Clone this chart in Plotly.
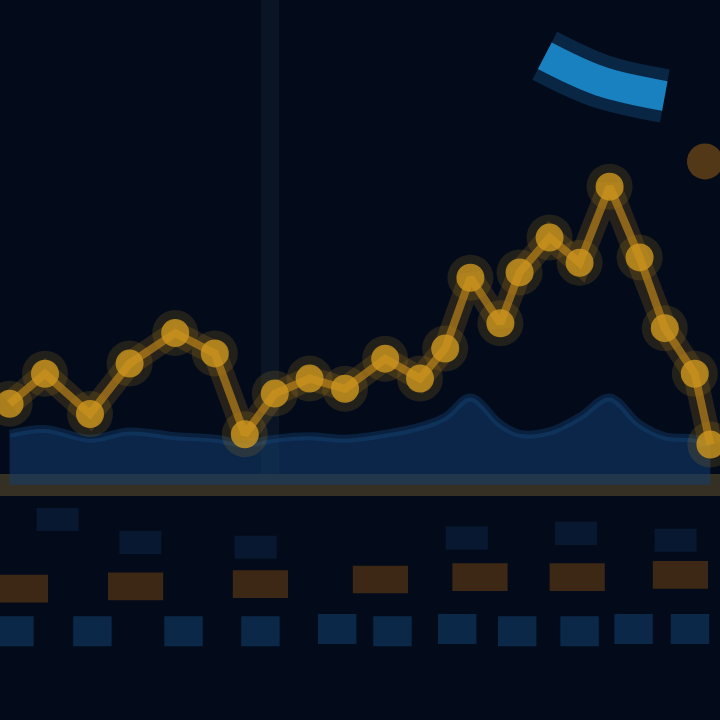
import plotly.graph_objects as go

# ---- data ----
day = [0.8, 3.75, 7.5, 10.8, 14.6, 17.9, 20.4, 22.9, 25.8, 28.75, 32.1, 35.0,
       37.1, 39.2, 41.7, 43.3, 45.8, 48.3, 50.8, 53.3, 55.4, 57.9, 59.2]
price = [16.7, 22.9, 14.6, 25.0, 31.3, 27.1, 10.4, 18.8, 21.9, 19.8, 26.0, 21.9,
         28.1, 42.7, 33.3, 43.8, 51.0, 45.8, 61.5, 46.9, 32.3, 22.9, 8.3]
volume = [10.5, 11.5, 9.5, 11.0, 10.0, 9.5, 8.5, 9.5, 10.0, 9.5, 10.5, 12.0,
          14.0, 18.0, 12.5, 10.5, 11.0, 14.0, 18.0, 12.5, 10.0, 9.5, 8.5]
outlier_day = [58.75]
outlier_price = [66.7]
signal_day = [45.4, 50.0, 55.4]
signal_val = [88.5, 83.3, 80.2]

orange_day = [1.7, 11.3, 21.7, 31.7, 40.0, 48.1, 56.7]
orange_low = [5.1, 5.2, 5.3, 5.5, 5.6, 5.6, 5.7]
blue_day = [1.2, 7.7, 15.3, 21.7, 28.1, 32.7, 38.1, 43.1, 48.3, 52.8, 57.5]
blue_low = [3.2, 3.2, 3.2, 3.2, 3.3, 3.2, 3.3, 3.2, 3.2, 3.3, 3.3]
faint_day = [4.8, 11.7, 21.3, 38.9, 48.0, 56.3]
faint_low = [8.2, 7.2, 7.0, 7.4, 7.6, 7.3]

fig = go.Figure()

# blue area
fig.add_trace(go.Scatter(x=day, y=volume, mode="lines", fill="tozeroy",
                         line=dict(color="rgba(22,75,130,0.35)", width=8, shape="spline"),
                         fillcolor="rgba(18,62,110,0.55)", xaxis="x", yaxis="y"))
# glow of the line
fig.add_trace(go.Scatter(x=day, y=price, mode="lines+markers",
                         line=dict(color="rgba(200,140,25,0.18)", width=24),
                         marker=dict(size=46, color="rgba(200,140,25,0.16)"),
                         xaxis="x", yaxis="y"))
fig.add_trace(go.Scatter(x=day, y=price, mode="lines+markers",
                         line=dict(color="rgba(185,130,25,0.7)", width=8),
                         marker=dict(size=28, color="rgba(205,150,30,0.8)"),
                         xaxis="x", yaxis="y"))
fig.add_trace(go.Scatter(x=outlier_day, y=outlier_price, mode="markers",
                         marker=dict(size=36, color="rgba(150,95,20,0.55)"),
                         xaxis="x", yaxis="y"))
# blue signal streak
fig.add_trace(go.Scatter(x=signal_day, y=signal_val, mode="lines",
                         line=dict(color="rgba(25,90,150,0.35)", width=54, shape="spline"),
                         xaxis="x", yaxis="y"))
fig.add_trace(go.Scatter(x=signal_day, y=signal_val, mode="lines",
                         line=dict(color="rgba(27,140,205,0.9)", width=30, shape="spline"),
                         xaxis="x", yaxis="y"))

# lower panel
fig.add_trace(go.Bar(x=faint_day, y=[1.0] * len(faint_day), base=faint_low, width=3.5,
                     marker=dict(color="rgba(20,55,100,0.3)", line=dict(width=0)),
                     xaxis="x2", yaxis="y2"))
fig.add_trace(go.Bar(x=orange_day, y=[1.2] * len(orange_day), base=orange_low, width=4.6,
                     marker=dict(color="rgba(100,58,18,0.6)", line=dict(width=0)),
                     xaxis="x2", yaxis="y2"))
fig.add_trace(go.Bar(x=blue_day, y=[1.3] * len(blue_day), base=blue_low, width=3.2,
                     marker=dict(color="rgba(18,60,105,0.6)", line=dict(width=0)),
                     xaxis="x2", yaxis="y2"))

fig.update_layout(
    width=720, height=720, showlegend=False, barmode="overlay",
    margin=dict(l=0, r=0, t=0, b=0),
    paper_bgcolor="#010308", plot_bgcolor="#030b1b",
    xaxis=dict(range=[0, 60], showticklabels=False, zeroline=False,
               tickvals=[22.5], showgrid=True, ticks="",
               gridcolor="rgba(22,36,58,0.35)", gridwidth=18),
    yaxis=dict(domain=[0.32, 1], range=[-1, 100], showticklabels=False,
               showgrid=False, ticks="", zeroline=True,
               zerolinecolor="#363024", zerolinewidth=22),
    xaxis2=dict(range=[0, 60], anchor="y2", showticklabels=False,
                showgrid=False, zeroline=False, ticks=""),
    yaxis2=dict(domain=[0, 0.32], range=[0, 10], anchor="x2",
                showticklabels=False, showgrid=False, zeroline=False, ticks=""),
)

fig.write_html("out.html", config={"displayModeBar": False},
               post_script="document.body.style.margin='0';"
                           "document.body.style.background='#010308';")
